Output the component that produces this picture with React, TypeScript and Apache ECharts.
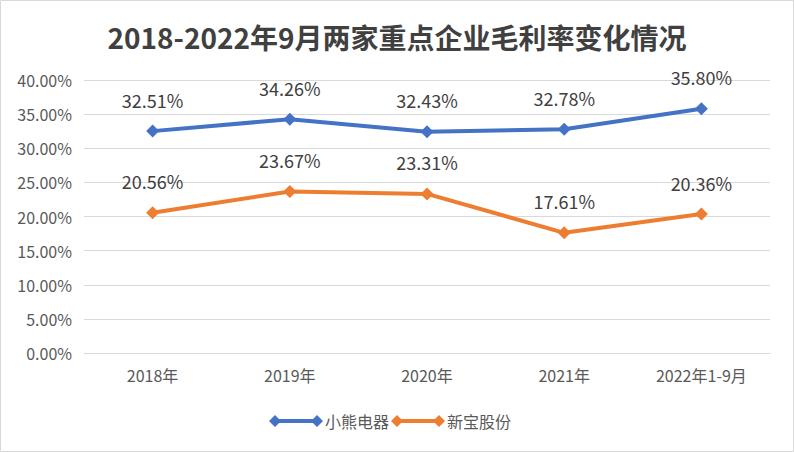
import React, { useEffect, useRef } from "react";
import * as echarts from "echarts";

const categories = ["2018年", "2019年", "2020年", "2021年", "2022年1-9月"];
const xiaoxiong = [32.51, 34.26, 32.43, 32.78, 35.8];
const xinbao = [20.56, 23.67, 23.31, 17.61, 20.36];
const seriesNames = ["小熊电器", "新宝股份"];
const titleText = "2018-2022年9月两家重点企业毛利率变化情况";

const FONT = "'Noto Sans CJK SC', 'Noto Sans', sans-serif";
const LEGEND_ICON =
  "path://M0,6 L6,0 L12,6 L6,12 Z M42,6 L48,0 L54,6 L48,12 Z M6,4 L48,4 L48,8 L6,8 Z";

export default function App() {
  const ref = useRef<HTMLDivElement>(null);
  useEffect(() => {
    if (!ref.current) return;
    const chart = echarts.init(ref.current, undefined, { renderer: "svg" });
    const mkSeries = (name: string, data: number[], color: string) => ({
      name,
      type: "line",
      data,
      symbol: "diamond",
      symbolSize: 13,
      lineStyle: { width: 4, color },
      itemStyle: { color },
      label: {
        show: true,
        position: "top",
        distance: 16,
        formatter: (p: any) => `${p.value.toFixed(2)}%`,
        color: "#404040",
        fontSize: 18,
        fontFamily: FONT,
      },
    });
    chart.setOption({
      animation: false,
      backgroundColor: "#ffffff",
      title: {
        text: titleText,
        left: "center",
        top: 18,
        textStyle: {
          fontSize: 28,
          fontWeight: "bold",
          color: "#404040",
          fontFamily: FONT,
        },
      },
      legend: {
        bottom: 18,
        left: 264,
        itemGap: 2,
        itemWidth: 54,
        itemHeight: 12,
        icon: LEGEND_ICON,
        textStyle: { fontSize: 16, color: "#595959", fontFamily: FONT, padding: [0, 0, 0, -3] },
        data: seriesNames,
      },
      grid: { left: 84, right: 24, top: 80, bottom: 99 },
      xAxis: {
        type: "category",
        data: categories,
        boundaryGap: true,
        axisLine: { lineStyle: { color: "#d9d9d9" } },
        axisTick: { show: false },
        axisLabel: { fontSize: 16, color: "#595959", fontFamily: FONT, margin: 14 },
      },
      yAxis: {
        type: "value",
        min: 0,
        max: 40,
        interval: 5,
        axisLine: { show: false },
        axisTick: { show: false },
        splitLine: { lineStyle: { color: "#d9d9d9", width: 1 } },
        axisLabel: {
          fontSize: 16,
          color: "#595959",
          fontFamily: FONT,
          margin: 12,
          formatter: (v: number) => `${v.toFixed(2)}%`,
        },
      },
      graphic: [
        {
          type: "rect",
          shape: { x: 0.5, y: 0.5, width: 793, height: 451 },
          style: { fill: "none", stroke: "#d9d9d9", lineWidth: 1 },
          silent: true,
        },
      ],
      series: [
        mkSeries(seriesNames[0], xiaoxiong, "#4472C4"),
        mkSeries(seriesNames[1], xinbao, "#ED7D31"),
      ],
    });
    return () => chart.dispose();
  }, []);
  return (
    <div
      ref={ref}
      style={{ position: "absolute", left: 0, top: 0, width: 794, height: 452 }}
    />
  );
}
